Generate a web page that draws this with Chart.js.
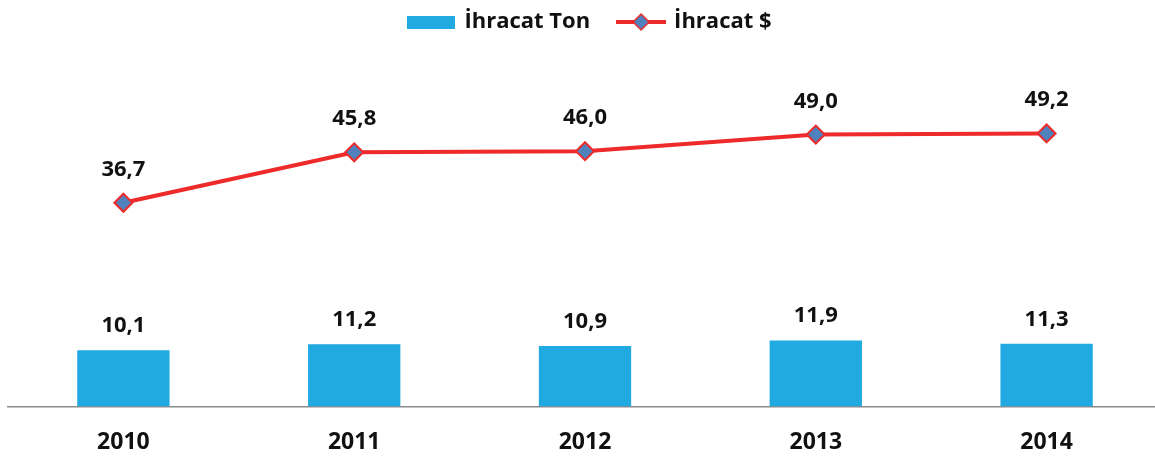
<!DOCTYPE html>
<html>
<head>
<meta charset="utf-8">
<script src="https://cdn.jsdelivr.net/npm/chart.js@4.4.1/dist/chart.umd.min.js"></script>
<style>
  body { margin: 0; background: #fff; }
  #wrap { width: 1155px; height: 459px; position: relative; }
</style>
</head>
<body>
<div id="wrap"><canvas id="Chart"></canvas></div>
<script>
'use strict';
// ********************* DATA ********************
let years = ['2010', '2011', '2012', '2013', '2014'];
let exportTon = [10.1, 11.2, 10.9, 11.9, 11.3];
let exportUsd = [36.7, 45.8, 46.0, 49.0, 49.2];
let seriesNames = ['İhracat Ton', 'İhracat $'];

// ********************* STYLE ********************
const barBlue = '#21a9e1';
const lineRed = '#ee2a2a';
const markerBlue = '#4f81bd';
const fontFam = "'Open Sans', sans-serif";

// ********************* LEGEND ICONS ********************
function barIcon() {
  let c = document.createElement('canvas');
  c.width = 48; c.height = 13;
  let ctx = c.getContext('2d');
  ctx.fillStyle = barBlue;
  ctx.fillRect(0, 0, 48, 13);
  return c;
}

function lineIcon() {
  let c = document.createElement('canvas');
  c.width = 50; c.height = 20;
  let ctx = c.getContext('2d');
  ctx.strokeStyle = lineRed;
  ctx.lineWidth = 4;
  ctx.beginPath();
  ctx.moveTo(0, 10); ctx.lineTo(50, 10);
  ctx.stroke();
  ctx.beginPath();
  ctx.moveTo(25, 2); ctx.lineTo(33, 10); ctx.lineTo(25, 18); ctx.lineTo(17, 10);
  ctx.closePath();
  ctx.fillStyle = markerBlue;
  ctx.fill();
  ctx.lineWidth = 1.5;
  ctx.stroke();
  return c;
}

let icons = [barIcon(), lineIcon()];

// ********************* PLUGINS ********************
// value labels above bars and points (comma decimals)
const valueLabels = {
  id: 'valueLabels',
  afterDatasetsDraw(chart) {
    let ctx = chart.ctx;
    ctx.save();
    ctx.font = 'bold 22px ' + fontFam;
    ctx.fillStyle = '#111';
    ctx.textAlign = 'center';
    ctx.textBaseline = 'alphabetic';
    chart.data.datasets.forEach((ds, i) => {
      let meta = chart.getDatasetMeta(i);
      let lift = ds.type === 'line' ? 35 : 26;
      meta.data.forEach((el, j) => {
        let txt = ds.data[j].toFixed(1).replace('.', ',');
        ctx.fillText(txt, el.x, el.y - lift + 8);
      });
    });
    ctx.restore();
  }
};

// nudge the legend right and let the x axis run a bit past the canvas edge
const layoutTweaks = {
  id: 'layoutTweaks',
  afterLayout(chart) {
    chart.legend.left += 9;
    chart.legend.right += 9;
    let x = chart.scales.x;
    x.right += 7;
    x.width += 7;
    x.configure();
  }
};

// ********************* THE CHART ********************
function renderChart() {
  let chartObj = {
    type: 'bar',
    data: {
      labels: years,
      datasets: [{
        type: 'bar',
        label: seriesNames[0],
        data: exportTon,
        backgroundColor: barBlue,
        barPercentage: 0.4,
        categoryPercentage: 1.0
      },
      {
        type: 'line',
        label: seriesNames[1],
        data: exportUsd,
        borderColor: lineRed,
        borderWidth: 4,
        pointStyle: 'rectRot',
        pointRadius: 9,
        pointHoverRadius: 9,
        pointBackgroundColor: markerBlue,
        pointBorderColor: lineRed,
        pointBorderWidth: 2,
        tension: 0
      }]
    },
    options: {
      responsive: true,
      maintainAspectRatio: false,
      animation: false,
      layout: {
        autoPadding: false,
        padding: { top: -18, left: 8, right: 0, bottom: -19 }
      },
      plugins: {
        tooltip: { enabled: false },
        legend: {
          position: 'top',
          labels: {
            usePointStyle: true,
            pointStyleWidth: 44,
            padding: 29,
            color: '#111',
            font: { family: fontFam, size: 22, weight: 'bold' },
            generateLabels(chart) {
              let items = Chart.defaults.plugins.legend.labels.generateLabels(chart);
              items.forEach(it => { it.pointStyle = icons[it.datasetIndex]; });
              return items;
            }
          }
        }
      },
      scales: {
        y: {
          display: false,
          min: 0,
          max: 65.5
        },
        x: {
          grid: { display: false, drawTicks: false },
          border: { color: '#8c8c8c', width: 1.5 },
          ticks: {
            padding: 22,
            color: '#111',
            font: { family: fontFam, size: 23, weight: 'bold' }
          }
        }
      }
    },
    plugins: [valueLabels, layoutTweaks]
  };
  new Chart(document.getElementById('Chart'), chartObj);
}

// ********************* RUN ********************
renderChart();
</script>
</body>
</html>
